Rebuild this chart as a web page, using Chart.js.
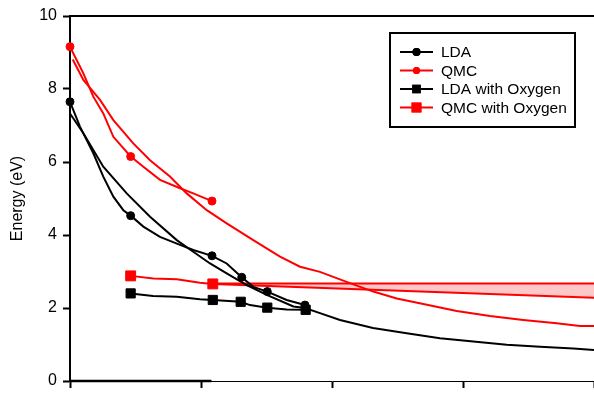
<!DOCTYPE html>
<html>
<head>
<meta charset="utf-8">
<script src="https://cdn.jsdelivr.net/npm/chart.js"></script>
<style>
  html, body { margin: 0; padding: 0; background: #fff; }
  #wrap { width: 594px; height: 398px; }
</style>
</head>
<body>
<div id="wrap"><canvas id="energyChart" width="594" height="398"></canvas></div>
<script>
"use strict";

// LDA markers and its two curves
var ldaMarkX = [0, 0.463, 1.084, 1.311, 1.506, 1.794];
var ldaMarkY = [7.65, 4.53, 3.43, 2.84, 2.45, 2.08];
var ldaCurveX = [0, 0.076, 0.178, 0.254, 0.331, 0.407, 0.463, 0.56, 0.687, 0.84, 0.941, 1.084, 1.196, 1.311, 1.399, 1.506, 1.654, 1.794];
var ldaCurveY = [7.65, 6.97, 6.24, 5.6, 5.05, 4.68, 4.53, 4.23, 3.95, 3.73, 3.59, 3.43, 3.22, 2.84, 2.58, 2.45, 2.22, 2.08];
var ldaFitX = [0, 0.102, 0.254, 0.433, 0.611, 0.815, 0.941, 1.069, 1.196, 1.349, 1.502, 1.705, 1.794, 1.908, 2.061, 2.313, 2.57, 2.824, 3.079, 3.334, 3.588, 3.842, 4.0];
var ldaFitY = [7.33, 6.79, 5.87, 5.14, 4.5, 3.86, 3.54, 3.22, 2.95, 2.63, 2.36, 2.04, 2.0, 1.86, 1.67, 1.45, 1.31, 1.17, 1.08, 0.99, 0.94, 0.89, 0.85];

// QMC markers and its two curves
var qmcMarkX = [0, 0.463, 1.084];
var qmcMarkY = [9.16, 6.15, 4.93];
var qmcCurveX = [0, 0.102, 0.178, 0.254, 0.331, 0.463, 0.56, 0.687, 0.84, 0.941, 1.084];
var qmcCurveY = [9.16, 8.43, 7.79, 7.33, 6.69, 6.15, 5.87, 5.51, 5.28, 5.14, 4.93];
var qmcFitX = [0.021, 0.102, 0.229, 0.331, 0.483, 0.611, 0.763, 0.891, 1.044, 1.196, 1.399, 1.603, 1.756, 1.908, 2.137, 2.315, 2.494, 2.697, 2.952, 3.206, 3.46, 3.715, 3.893, 4.0];
var qmcFitY = [8.81, 8.25, 7.7, 7.15, 6.51, 6.05, 5.6, 5.14, 4.68, 4.32, 3.86, 3.41, 3.13, 2.99, 2.68, 2.45, 2.26, 2.11, 1.92, 1.78, 1.67, 1.58, 1.51, 1.51];

// with oxygen
var ldaOxX = [0.463, 1.09, 1.303, 1.506, 1.799];
var ldaOxY = [2.40, 2.22, 2.17, 2.01, 1.95];
var ldaOxLineX = [0.463, 0.634, 0.815, 0.992, 1.09, 1.303, 1.374, 1.506, 1.654, 1.799];
var ldaOxLineY = [2.40, 2.33, 2.31, 2.24, 2.22, 2.17, 2.08, 2.01, 1.96, 1.95];
var qmcOxX = [0.463, 1.09];
var qmcOxY = [2.88, 2.66];
var qmcOxLineX = [0.463, 0.636, 0.815, 0.992, 1.09];
var qmcOxLineY = [2.88, 2.81, 2.79, 2.69, 2.66];
var qmcOxHighX = [1.09, 4.0];
var qmcOxHighY = [2.67, 2.67];
var qmcOxLowX = [1.09, 4.0];
var qmcOxLowY = [2.66, 2.28];

var yTicks = [0, 2, 4, 6, 8, 10];

function pts(xs, ys) {
    return xs.map(function (x, i) { return { x: x, y: ys[i] }; });
}

function line(xs, ys, color) {
    return {
        data: pts(xs, ys),
        showLine: true,
        borderColor: color,
        borderWidth: 2,
        pointRadius: 0,
        fill: false,
        tension: 0
    };
}

function marks(xs, ys, color, style, r) {
    return {
        data: pts(xs, ys),
        showLine: false,
        pointStyle: style,
        pointRadius: r,
        pointBackgroundColor: color,
        pointBorderColor: color,
        pointBorderWidth: 1,
        clip: false
    };
}

var lowBand = line(qmcOxLowX, qmcOxLowY, 'rgb(255, 0, 0)');
lowBand.fill = '-1';
lowBand.backgroundColor = 'rgb(255, 200, 200)';

var extras = {
    id: 'extras',
    afterDraw: function (chart) {
        var c = chart.ctx;
        var a = chart.chartArea;
        var xs = chart.scales.x;
        c.save();
        c.strokeStyle = '#000';
        c.lineWidth = 2;
        c.beginPath();
        c.moveTo(a.left - 1, a.top);
        c.lineTo(a.right, a.top);
        c.stroke();
        c.lineWidth = 2.5;
        c.beginPath();
        c.moveTo(a.left, a.bottom);
        c.lineTo(xs.getPixelForValue(1.08), a.bottom);
        c.stroke();

        // legend box
        c.lineWidth = 2;
        c.strokeRect(390, 33, 185, 94);
        var items = [
            ['LDA', '#000', 'circle', 4],
            ['QMC', 'rgb(255, 0, 0)', 'circle', 3.5],
            ['LDA with Oxygen', '#000', 'rect', 6],
            ['QMC with Oxygen', 'rgb(255, 0, 0)', 'rect', 7]
        ];
        c.font = '15.5px "Liberation Sans", Arial, sans-serif';
        c.textBaseline = 'middle';
        items.forEach(function (it, i) {
            var y = 52 + i * 18.5;
            c.strokeStyle = it[1];
            c.fillStyle = it[1];
            c.lineWidth = 2;
            c.beginPath();
            c.moveTo(400, y);
            c.lineTo(433, y);
            c.stroke();
            Chart.helpers.drawPoint(c, { pointStyle: it[2], radius: it[3], borderWidth: 0 }, 416.5, y);
            c.fill();
            c.fillStyle = '#000';
            c.fillText(it[0], 441, y + 1);
        });
        c.restore();
    }
};

var ctx = document.getElementById('energyChart').getContext('2d');
var myChart = new Chart(ctx, {
    type: 'scatter',
    data: {
        datasets: [
            line(ldaCurveX, ldaCurveY, '#000'),
            line(ldaFitX, ldaFitY, '#000'),
            line(ldaOxLineX, ldaOxLineY, '#000'),
            line(qmcCurveX, qmcCurveY, 'rgb(255, 0, 0)'),
            line(qmcFitX, qmcFitY, 'rgb(255, 0, 0)'),
            line(qmcOxLineX, qmcOxLineY, 'rgb(255, 0, 0)'),
            line(qmcOxHighX, qmcOxHighY, 'rgb(255, 0, 0)'),
            lowBand,
            marks(ldaMarkX, ldaMarkY, '#000', 'circle', 4),
            marks(qmcMarkX, qmcMarkY, 'rgb(255, 0, 0)', 'circle', 4),
            marks(ldaOxX, ldaOxY, '#000', 'rect', 6.5),
            marks(qmcOxX, qmcOxY, 'rgb(255, 0, 0)', 'rect', 7)
        ]
    },
    options: {
        responsive: false,
        animation: false,
        layout: { autoPadding: false, padding: { top: 16, right: 0, bottom: 0, left: 0 } },
        plugins: {
            legend: { display: false },
            tooltip: { enabled: false }
        },
        scales: {
            x: {
                type: 'linear',
                min: 0,
                max: 4,
                ticks: { stepSize: 1, display: false },
                grid: { drawOnChartArea: false, tickLength: 7, tickColor: '#000', tickWidth: 2 },
                border: { color: '#000', width: 1 },
                afterFit: function (s) { s.height = 17; }
            },
            y: {
                min: 0,
                max: 10,
                afterBuildTicks: function (s) { s.ticks = yTicks.map(function (v) { return { value: v }; }); },
                ticks: {
                    color: '#000',
                    padding: 6,
                    font: { family: '"Liberation Sans", Arial, sans-serif', size: 16 }
                },
                grid: { drawOnChartArea: false, tickLength: 7, tickColor: '#000', tickWidth: 2 },
                border: { color: '#000', width: 2 },
                title: {
                    display: true,
                    text: 'Energy (eV)',
                    color: '#000',
                    padding: { top: 8, bottom: 0 },
                    font: { family: '"Liberation Sans", Arial, sans-serif', size: 16 }
                },
                afterFit: function (s) { s.width = 70; }
            }
        }
    },
    plugins: [extras]
});
</script>
</body>
</html>
